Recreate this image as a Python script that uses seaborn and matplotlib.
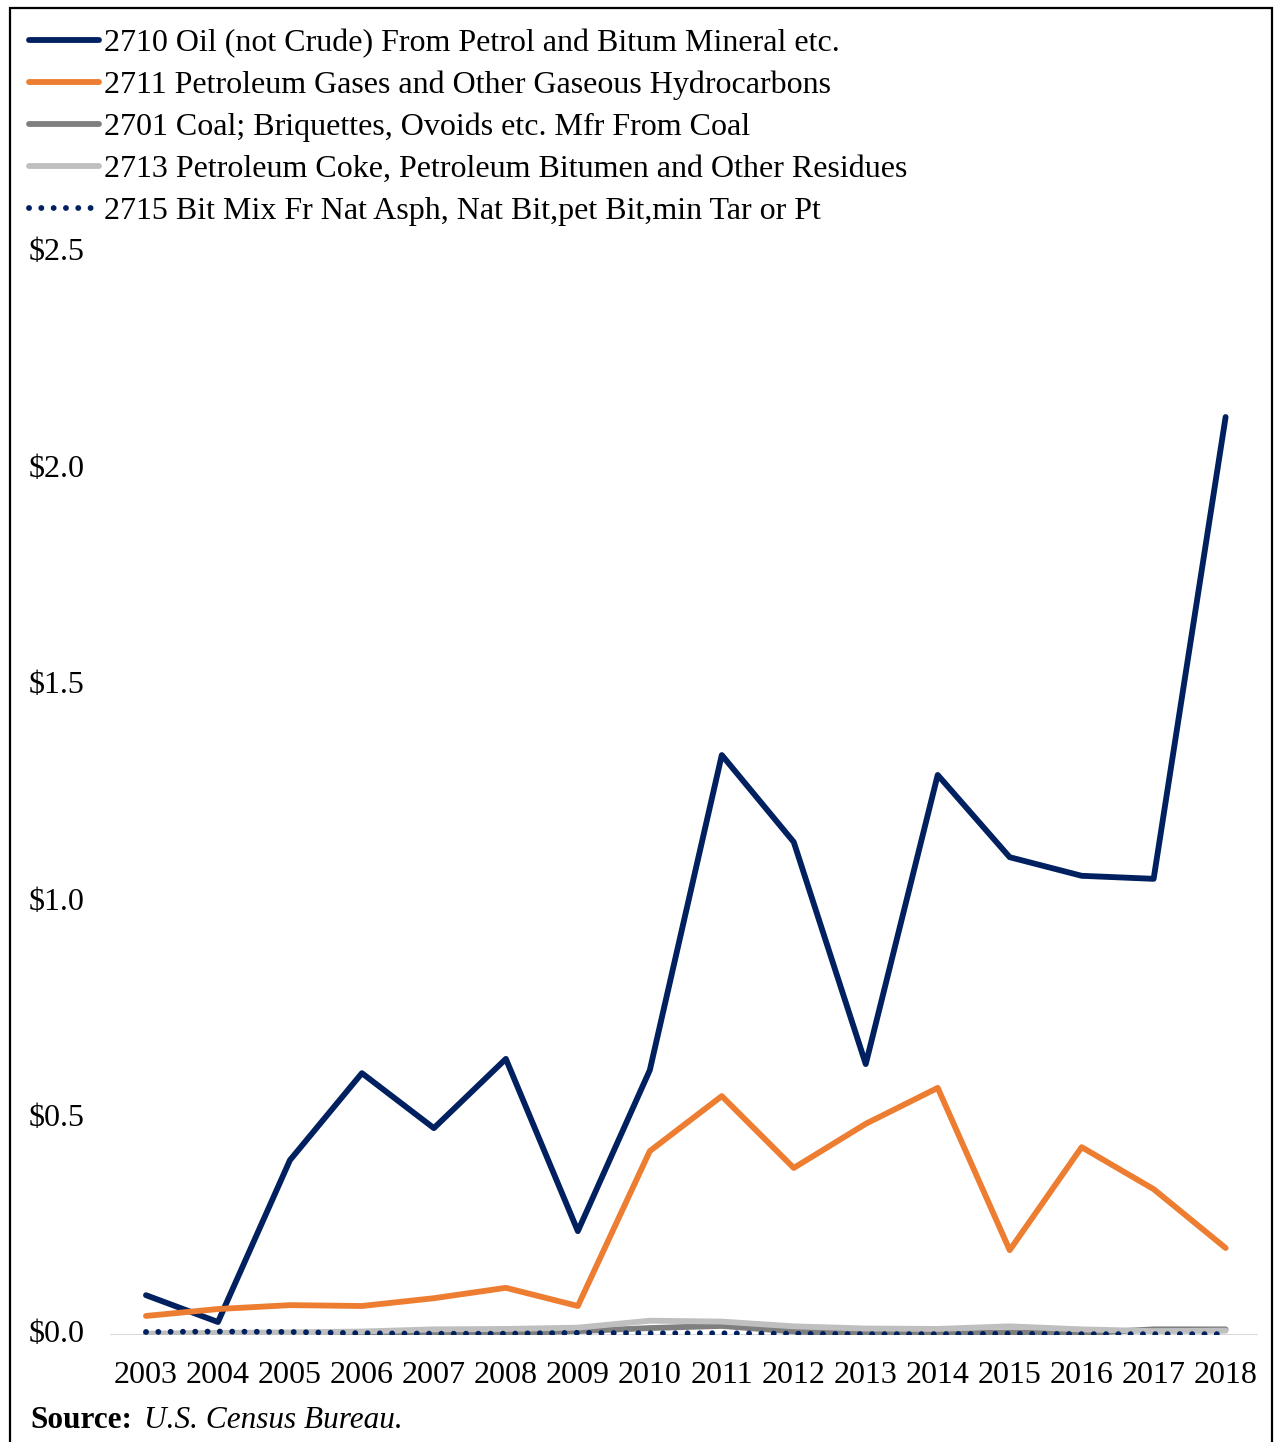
import matplotlib
matplotlib.use("Agg")
import matplotlib.pyplot as plt
from matplotlib.patches import Rectangle
import seaborn as sns

sns.set_theme(style="white")
plt.rcParams['font.family'] = ['Liberation Serif', 'DejaVu Serif']
plt.rcParams['text.color'] = 'black'

years = list(range(2003, 2019))

oil_2710 = [0.092, 0.030, 0.404, 0.605, 0.478, 0.638, 0.240, 0.612,
            1.340, 1.139, 0.626, 1.294, 1.104, 1.061, 1.054, 2.121]
gas_2711 = [0.044, 0.060, 0.069, 0.067, 0.085, 0.109, 0.067, 0.425,
            0.552, 0.386, 0.488, 0.571, 0.196, 0.434, 0.337, 0.201]
coal_2701 = [0.001, 0.002, 0.003, 0.002, 0.002, 0.004, 0.009, 0.016,
             0.021, 0.008, 0.003, 0.003, 0.006, 0.004, 0.013, 0.013]
coke_2713 = [0.003, 0.005, 0.006, 0.008, 0.013, 0.014, 0.017, 0.033,
             0.031, 0.020, 0.015, 0.014, 0.020, 0.013, 0.009, 0.010]
bit_2715 = [0.007, 0.008, 0.007, 0.004, 0.003, 0.003, 0.005, 0.004,
            0.004, 0.003, 0.002, 0.002, 0.003, 0.002, 0.002, 0.002]

labels = ["2710 Oil (not Crude) From Petrol and Bitum Mineral etc.",
          "2711 Petroleum Gases and Other Gaseous Hydrocarbons",
          "2701 Coal; Briquettes, Ovoids etc. Mfr From Coal",
          "2713 Petroleum Coke, Petroleum Bitumen and Other Residues",
          "2715 Bit Mix Fr Nat Asph, Nat Bit,pet Bit,min Tar or Pt"]
series = [oil_2710, gas_2711, coal_2701, coke_2713, bit_2715]
colors = ["#002060", "#ED7D31", "#7F7F7F", "#BFBFBF", "#002060"]
y_ticks = [0.0, 0.5, 1.0, 1.5, 2.0, 2.5]

W, H = 1275, 1442
fig = plt.figure(figsize=(W / 100, H / 100), dpi=100)
ax = fig.add_axes([110 / W, 1 - 1335 / H, (1258 - 110) / W, (1335 - 253) / H])

# zero baseline
ax.axhline(0, color="#D9D9D9", lw=1.5, zorder=1)

for vals, lab, col in zip(series, labels, colors):
    dotted = lab.startswith("2715")
    sns.lineplot(x=years, y=vals, ax=ax, color=col, label=lab,
                 lw=4.2, solid_capstyle="round", dash_capstyle="round",
                 linestyle=(0, (0.01, 2.1)) if dotted else "-", zorder=3)

ax.set_xlim(2002.5, 2018.45)
ax.set_ylim(0, 2.5)
ax.set_xticks(years)
ax.set_xticklabels([str(y) for y in years])
ax.set_yticks(y_ticks)
ax.set_yticklabels([f"${v:.1f}" for v in y_ticks])
ax.tick_params(axis="y", labelsize=23, pad=18, length=0, colors="black")
ax.tick_params(axis="x", labelsize=23, pad=19, length=0, colors="black")
for lbl in ax.get_yticklabels():
    lbl.set_verticalalignment("center")
for s in ax.spines.values():
    s.set_visible(False)
ax.set_xlabel("")
ax.set_ylabel("")

handles, labs = ax.get_legend_handles_labels()
ax.get_legend().remove()
fig.legend(handles, labs, loc="upper left",
           bbox_to_anchor=(16 / W, 1 - 16 / H), frameon=False,
           fontsize=23, handlelength=2.2, handletextpad=0.15,
           labelspacing=0.39, borderaxespad=0, labelcolor="black")

# source note
fig.text(30 / W, 1 - 1420 / H, "Source:", fontsize=22.5, fontweight="bold",
         va="center", ha="left", color="black")
fig.text(144 / W, 1 - 1420 / H, "U.S. Census Bureau.", fontsize=22.5,
         style="italic", va="center", ha="left", color="black")

# outer frame
fig.patches.append(Rectangle((10 / W, -0.01), 1262 / W, 1 - 8 / H + 0.01,
                             transform=fig.transFigure, fill=False,
                             edgecolor="black", lw=1.6))

fig.savefig("out.png", dpi=100, facecolor="white")
